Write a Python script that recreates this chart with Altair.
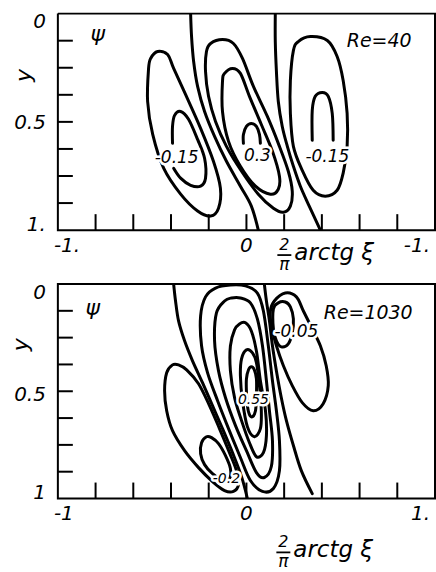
import altair as alt
import pandas as pd

# ---------------- data ----------------
# axes
x_tick_values = [-0.8, -0.6, -0.4, -0.2, 0.0, 0.2, 0.4, 0.6, 0.8]
y_tick_values = [0.125, 0.25, 0.375, 0.5, 0.625, 0.75, 0.875]
x_label_values = [-1.0, 0.0, 1.0]
y_label_values = [0.0, 0.5, 1.0]
top_x_labels = ["-1.", "0", "-1."]
top_y_labels = ["0", "0.5", "1."]
bot_x_labels = ["-1", "0", "1."]
bot_y_labels = ["0", "0.5", "1"]

# ---- top panel, Re = 40 ----
t_zero_left_x = [-0.296, -0.291, -0.280, -0.259, -0.222, -0.169, -0.106, -0.032, 0.026, 0.063]
t_zero_left_y = [0.0, 0.106, 0.221, 0.336, 0.452, 0.567, 0.682, 0.797, 0.889, 1.0]
t_zero_right_x = [0.153, 0.153, 0.159, 0.169, 0.190, 0.217, 0.249, 0.286, 0.333, 0.392]
t_zero_right_y = [0.0, 0.129, 0.267, 0.406, 0.521, 0.613, 0.705, 0.797, 0.889, 1.0]
t_left_outer_x = [-0.471, -0.418, -0.386, -0.323, -0.243, -0.175, -0.138, -0.148, -0.190, -0.259,
                  -0.349, -0.439, -0.497, -0.524, -0.519, -0.508]
t_left_outer_y = [0.175, 0.189, 0.253, 0.373, 0.530, 0.682, 0.806, 0.899, 0.935, 0.912,
                  0.834, 0.714, 0.558, 0.406, 0.253, 0.207]
t_left_inner_x = [-0.386, -0.349, -0.296, -0.243, -0.217, -0.222, -0.259, -0.307, -0.349, -0.381, -0.392, -0.392]
t_left_inner_y = [0.714, 0.760, 0.793, 0.797, 0.760, 0.668, 0.581, 0.488, 0.452, 0.470, 0.521, 0.599]
t_mid_outer_x = [-0.212, -0.217, -0.201, -0.164, -0.106, -0.026, 0.063, 0.143, 0.196, 0.233,
                 0.243, 0.222, 0.175, 0.111, 0.037, -0.021, -0.069, -0.127, -0.190]
t_mid_outer_y = [0.175, 0.267, 0.382, 0.498, 0.613, 0.728, 0.834, 0.899, 0.917, 0.889,
                 0.820, 0.728, 0.613, 0.475, 0.336, 0.207, 0.138, 0.120, 0.138]
t_mid_middle_x = [-0.127, -0.127, -0.095, -0.032, 0.048, 0.127, 0.169, 0.175, 0.138, 0.079,
                  0.016, -0.032, -0.074, -0.116]
t_mid_middle_y = [0.313, 0.452, 0.590, 0.705, 0.797, 0.834, 0.811, 0.751, 0.636, 0.512,
                  0.382, 0.276, 0.253, 0.276]
t_mid_inner_x = [-0.016, -0.016, 0.0, 0.026, 0.053, 0.069, 0.074]
t_mid_inner_y = [0.599, 0.558, 0.521, 0.507, 0.521, 0.558, 0.599]
t_right_outer_x = [0.339, 0.429, 0.481, 0.513, 0.534, 0.534, 0.513, 0.481, 0.418, 0.354,
                   0.296, 0.249, 0.233, 0.233, 0.249, 0.275]
t_right_outer_y = [0.106, 0.124, 0.198, 0.309, 0.461, 0.613, 0.737, 0.816, 0.843, 0.816,
                   0.724, 0.613, 0.461, 0.309, 0.171, 0.129]
t_right_inner_x = [0.349, 0.349, 0.365, 0.402, 0.434, 0.455, 0.460]
t_right_inner_y = [0.585, 0.447, 0.382, 0.364, 0.382, 0.461, 0.585]
t_label_text = ["-0.15", "0.3", "-0.15"]
t_label_x = [-0.370, 0.058, 0.429]
t_label_y = [0.668, 0.659, 0.664]

# ---- bottom panel, Re = 1030 ----
b_zero_left_x = [-0.386, -0.376, -0.360, -0.328, -0.286, -0.233, -0.180, -0.127, -0.074, -0.026, 0.005]
b_zero_left_y = [0.0, 0.079, 0.172, 0.265, 0.358, 0.460, 0.567, 0.674, 0.786, 0.898, 1.0]
b_zero_right_x = [0.095, 0.106, 0.122, 0.138, 0.159, 0.185, 0.212, 0.249, 0.291, 0.349]
b_zero_right_y = [0.0, 0.079, 0.172, 0.288, 0.405, 0.530, 0.637, 0.753, 0.870, 0.977]
b_pos1_x = [-0.085, -0.005, 0.058, 0.090, 0.116, 0.138, 0.159, 0.175, 0.175, 0.143,
            0.085, 0.021, -0.032, -0.095, -0.153, -0.206, -0.238, -0.243, -0.217, -0.164]
b_pos1_y = [0.005, 0.009, 0.042, 0.126, 0.288, 0.451, 0.591, 0.730, 0.870, 0.953,
            0.967, 0.916, 0.809, 0.674, 0.544, 0.414, 0.288, 0.149, 0.060, 0.019]
b_pos2_x = [-0.032, 0.021, 0.058, 0.085, 0.106, 0.122, 0.138, 0.132, 0.095, 0.053,
            0.0, -0.058, -0.111, -0.148, -0.169, -0.159, -0.116, -0.079]
b_pos2_y = [0.065, 0.088, 0.163, 0.288, 0.451, 0.591, 0.730, 0.851, 0.902, 0.879,
            0.777, 0.660, 0.530, 0.405, 0.265, 0.135, 0.079, 0.065]
b_pos3_x = [-0.005, 0.026, 0.053, 0.074, 0.101, 0.106, 0.090, 0.053, 0.016, -0.026,
            -0.063, -0.085, -0.085, -0.063, -0.037]
b_pos3_y = [0.181, 0.219, 0.312, 0.451, 0.591, 0.707, 0.786, 0.805, 0.740, 0.637,
            0.530, 0.405, 0.288, 0.214, 0.186]
b_pos4_x = [0.0, 0.032, 0.053, 0.069, 0.079, 0.074, 0.042, 0.005, -0.021, -0.032, -0.026]
b_pos4_y = [0.307, 0.321, 0.367, 0.474, 0.591, 0.674, 0.712, 0.665, 0.544, 0.428, 0.349]
b_pos5_x = [0.0, 0.0, 0.011, 0.026, 0.042, 0.053, 0.053, 0.048, 0.032, 0.016, 0.005]
b_pos5_y = [0.502, 0.442, 0.400, 0.386, 0.400, 0.442, 0.521, 0.591, 0.619, 0.609, 0.567]
b_negr1_x = [0.143, 0.169, 0.206, 0.233, 0.249, 0.243, 0.222, 0.185, 0.159, 0.143]
b_negr1_y = [0.116, 0.088, 0.084, 0.107, 0.163, 0.228, 0.279, 0.293, 0.265, 0.209]
b_negr2_x = [0.148, 0.206, 0.265, 0.302, 0.349, 0.392, 0.423, 0.434, 0.407, 0.354,
             0.296, 0.243, 0.196, 0.159, 0.132, 0.127]
b_negr2_y = [0.079, 0.042, 0.060, 0.126, 0.209, 0.288, 0.381, 0.474, 0.558, 0.591,
             0.553, 0.474, 0.381, 0.288, 0.195, 0.126]
b_negl1_x = [-0.392, -0.423, -0.434, -0.423, -0.392, -0.328, -0.254, -0.180, -0.116, -0.069,
             -0.042, -0.053, -0.090, -0.143, -0.196, -0.254, -0.317, -0.360]
b_negl1_y = [0.377, 0.414, 0.498, 0.591, 0.684, 0.777, 0.856, 0.921, 0.963, 0.967,
             0.935, 0.870, 0.786, 0.674, 0.567, 0.465, 0.400, 0.377]
b_negl2_x = [-0.212, -0.238, -0.243, -0.222, -0.180, -0.127, -0.090, -0.085, -0.111, -0.148, -0.185]
b_negl2_y = [0.712, 0.740, 0.791, 0.842, 0.884, 0.912, 0.907, 0.860, 0.800, 0.744, 0.716]
b_label_text = ["-0.05", "0.55", "-0.2"]
b_label_x = [0.265, 0.037, -0.106]
b_label_y = [0.223, 0.540, 0.907]

# ---------------- chart building ----------------
FONT = "DejaVu Sans"
W = 378
XS = alt.Scale(domain=[-1, 1], nice=False, zero=False)
YS = alt.Scale(domain=[0, 1], reverse=True, nice=False, zero=False)
one_row = pd.DataFrame({"a": [0]})


def curves_df(curves):
    rows = []
    for cid, (xs, ys) in enumerate(curves):
        for k, (a, b) in enumerate(zip(xs, ys)):
            rows.append({"x": a, "y": b, "cid": cid, "k": k})
    return pd.DataFrame(rows)


def txt(text, x, y, size, **kw):
    return alt.Chart(one_row).mark_text(
        text=text, font=FONT, fontStyle="italic", fontSize=size, color="black", **kw
    ).encode(x=alt.value(x), y=alt.value(y))


def X(field="x"):
    return alt.X(f"{field}:Q", scale=XS, axis=None)


def Y(field="y"):
    return alt.Y(f"{field}:Q", scale=YS, axis=None)


def panel(closed, opened, lab_text, lab_x, lab_y, lab_sizes, xl, yl, y_dy, re_text, h, frac,
          psi_xy, re_xy, ytitle_xy, corner):
    layers = []
    if corner:
        layers.append(alt.Chart(one_row).mark_rect(color="white").encode(
            x=alt.value(-57), x2=alt.value(0), y=alt.value(-12), y2=alt.value(0)))

    # contour lines
    layers.append(alt.Chart(curves_df(closed)).mark_line(
        interpolate="cardinal-closed", color="black", strokeWidth=3, clip=True
    ).encode(x=X(), y=Y(), detail="cid:N", order="k:Q"))
    layers.append(alt.Chart(curves_df(opened)).mark_line(
        interpolate="cardinal", color="black", strokeWidth=3, clip=True, strokeCap="round"
    ).encode(x=X(), y=Y(), detail="cid:N", order="k:Q"))

    # inward ticks
    layers.append(alt.Chart(pd.DataFrame({"x": x_tick_values})).mark_rule(
        color="black", strokeWidth=2).encode(x=X(), y=alt.value(h), y2=alt.value(h - 16)))
    layers.append(alt.Chart(pd.DataFrame({"y": y_tick_values})).mark_rule(
        color="black", strokeWidth=2).encode(y=Y(), x=alt.value(0), x2=alt.value(15)))

    # tick labels
    x_aligns = ["left", "center", "right"]
    x_dx = [-4, 0, -5]
    for i in range(3):
        d = pd.DataFrame({"x": [x_label_values[i]], "t": [xl[i]]})
        layers.append(alt.Chart(d).mark_text(
            font=FONT, fontStyle="italic", fontSize=20, color="black",
            align=x_aligns[i], baseline="middle", dx=x_dx[i]
        ).encode(x=X(), y=alt.value(h + 16), text="t:N"))
    for i in range(3):
        d = pd.DataFrame({"y": [y_label_values[i]], "t": [yl[i]]})
        layers.append(alt.Chart(d).mark_text(
            font=FONT, fontStyle="italic", fontSize=20, color="black",
            align="right", baseline="middle", dy=y_dy[i]
        ).encode(y=Y(), x=alt.value(-12), text="t:N"))

    # contour value labels (white halo erases the line beneath)
    for i in range(len(lab_text)):
        d = pd.DataFrame({"x": [lab_x[i]], "y": [lab_y[i]], "t": [lab_text[i]]})
        layers.append(alt.Chart(d).mark_text(
            font=FONT, fontStyle="italic", fontSize=lab_sizes[i], fill="white", stroke="white",
            strokeWidth=5, strokeJoin="round").encode(x=X(), y=Y(), text="t:N"))
        layers.append(alt.Chart(d).mark_text(
            font=FONT, fontStyle="italic", fontSize=lab_sizes[i], color="black"
        ).encode(x=X(), y=Y(), text="t:N"))

    # annotations
    fx, fy = frac
    layers += [
        txt("ψ", psi_xy[0], psi_xy[1], 22),
        txt(re_text, re_xy[0], re_xy[1], 19),
        txt("y", ytitle_xy[0], ytitle_xy[1], 22, angle=270),
        txt("2", fx, fy, 16),
        alt.Chart(one_row).mark_rule(color="black", strokeWidth=1.8).encode(
            x=alt.value(fx - 7), x2=alt.value(fx + 7), y=alt.value(fy + 10)),
        txt("π", fx, fy + 20, 17),
        txt("arctg ξ", fx + 10, fy + 15, 23, align="left", baseline="alphabetic"),
    ]
    return alt.layer(*layers).properties(width=W, height=h)


top = panel(
    closed=[(t_left_outer_x, t_left_outer_y), (t_mid_outer_x, t_mid_outer_y),
            (t_mid_middle_x, t_mid_middle_y), (t_right_outer_x, t_right_outer_y)],
    opened=[(t_zero_left_x, t_zero_left_y), (t_zero_right_x, t_zero_right_y),
            (t_left_inner_x, t_left_inner_y), (t_mid_inner_x, t_mid_inner_y),
            (t_right_inner_x, t_right_inner_y)],
    lab_text=t_label_text, lab_x=t_label_x, lab_y=t_label_y, lab_sizes=[17, 17, 17],
    xl=top_x_labels, yl=top_y_labels, y_dy=[8, 1, -5], re_text="Re=40", h=217,
    frac=(227, 232), psi_xy=(40, 20), re_xy=(322, 27), ytitle_xy=(-34, 62), corner=True)

bottom = panel(
    closed=[(b_pos1_x, b_pos1_y), (b_pos2_x, b_pos2_y), (b_pos3_x, b_pos3_y), (b_pos4_x, b_pos4_y),
            (b_pos5_x, b_pos5_y), (b_negr1_x, b_negr1_y), (b_negr2_x, b_negr2_y),
            (b_negl1_x, b_negl1_y), (b_negl2_x, b_negl2_y)],
    opened=[(b_zero_left_x, b_zero_left_y), (b_zero_right_x, b_zero_right_y)],
    lab_text=b_label_text, lab_x=b_label_x, lab_y=b_label_y, lab_sizes=[17, 14, 14],
    xl=bot_x_labels, yl=bot_y_labels, y_dy=[9, 4, -6], re_text="Re=1030", h=215,
    frac=(226, 259), psi_xy=(35, 24), re_xy=(311, 29), ytitle_xy=(-37, 61), corner=False)

chart = alt.vconcat(top, bottom, spacing=54, bounds="flush").properties(
    padding=0, background="white"
).configure_view(stroke="black", strokeWidth=2)

chart.save("out.html", embed_options={"renderer": "svg", "actions": False})
